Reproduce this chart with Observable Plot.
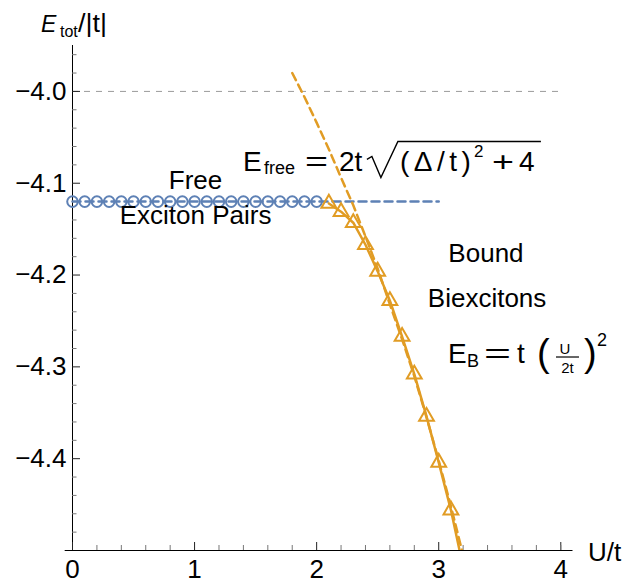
<!DOCTYPE html>
<html><head><meta charset="utf-8">
<script src="https://cdn.jsdelivr.net/npm/d3@7"></script>
<script src="https://cdn.jsdelivr.net/npm/@observablehq/plot@0.6"></script>
<style>body{margin:0;background:#fff;} svg{display:block;}</style>
</head><body><div id="chart"></div>
<script>
// ---- data ----
const freeU = [0.0,0.1,0.2,0.3,0.4,0.5,0.6,0.7,0.8,0.9,1.0,1.1,1.2,1.3,1.4,1.5,1.6,1.7,1.8,1.9,2.0];
const freeE = [-4.12,-4.12,-4.12,-4.12,-4.12,-4.12,-4.12,-4.12,-4.12,-4.12,-4.12,-4.12,-4.12,-4.12,-4.12,-4.12,-4.12,-4.12,-4.12,-4.12,-4.12];
const freeLineU = [0.0, 3.0];
const freeLineE = [-4.12, -4.12];
const boundU = [2.1,2.2,2.3,2.4,2.5,2.6,2.7,2.8,2.9,3.0,3.1];
const boundE = [-4.122,-4.131,-4.143,-4.167,-4.196,-4.228,-4.267,-4.308,-4.354,-4.404,-4.456];
const boundLineU = [2.1,2.2,2.3,2.4,2.5,2.6,2.7,2.8,2.9,3.0,3.1,3.2];
const boundLineE = [-4.122,-4.131,-4.143,-4.167,-4.196,-4.228,-4.267,-4.308,-4.354,-4.404,-4.456,-4.518];
const ebU = [1.8,1.9,2.0,2.1,2.2,2.3,2.4,2.5,2.6,2.7,2.8,2.9,3.0,3.1,3.2];
const ebE = [-3.980,-4.006,-4.034,-4.063,-4.094,-4.124,-4.158,-4.193,-4.232,-4.270,-4.310,-4.355,-4.402,-4.452,-4.505];
const refLineU = [0, 4];
const refLineE = -4.0;
const xTicks = [0,1,2,3,4];
const xMinor = [0.2,0.4,0.6,0.8,1.2,1.4,1.6,1.8,2.2,2.4,2.6,2.8,3.2,3.4,3.6,3.8,4.0];
const yTicks = [-4.4,-4.3,-4.2,-4.1,-4.0];
const yMinor = [-4.48,-4.46,-4.44,-4.42,-4.38,-4.36,-4.34,-4.32,-4.28,-4.26,-4.24,-4.22,-4.18,-4.16,-4.14,-4.12,-4.08,-4.06,-4.04,-4.02,-3.98,-3.96];
const labelText = ["Free", "Exciton Pairs", "Bound", "Biexcitons"];
const labelU = [1.008, 1.008, 3.387, 3.396];
const labelE = [-4.1062, -4.1443, -4.1857, -4.2347];
const axisLabelX = "U/t";
const formulaFreeAt = [1.40, -4.0877];
const formulaBAt = [3.08, -4.2958];

// ---- tables ----
const freePts = freeU.map((u, i) => ({U: u, E: freeE[i]}));
const freeLine = freeLineU.map((u, i) => ({U: u, E: freeLineE[i]}));
const boundPts = boundU.map((u, i) => ({U: u, E: boundE[i]}));
const boundLine = boundLineU.map((u, i) => ({U: u, E: boundLineE[i]}));
const ebLine = ebU.map((u, i) => ({U: u, E: ebE[i]}));
const labels = labelText.map((t, i) => ({t, U: labelU[i], E: labelE[i]}));

const W = 633, H = 584, ML = 72, MR = 60.5, MT = 45, MB = 34;
const FW = W - ML - MR, FH = H - MT - MB;
const blue = "#5E81B5", orange = "#E19C24";

const chart = Plot.plot({
  width: W, height: H,
  marginLeft: ML, marginRight: MR, marginTop: MT, marginBottom: MB,
  x: {domain: [0, 4.1], axis: null},
  y: {domain: [-4.5, -3.95], axis: null},
  style: {fontFamily: "Liberation Sans, Arial, sans-serif", background: "white", color: "black"},
  marks: [
    Plot.ruleY([refLineE], {x1: refLineU[0], x2: refLineU[1], stroke: "#9a9a9a", strokeWidth: 1, strokeDasharray: "6,6"}),
    Plot.ruleX([0], {y1: -4.5, y2: -3.95, stroke: "black", strokeWidth: 1}),
    Plot.ruleY([-4.5], {x1: -0.06, x2: 4.1, stroke: "black", strokeWidth: 1}),
    Plot.tickY(yTicks, {y: d => d, insetRight: FW - 8, stroke: "#222"}),
    Plot.tickY(yMinor, {y: d => d, insetRight: FW - 4.5, stroke: "#777"}),
    Plot.tickX(xTicks, {x: d => d, insetTop: FH - 8, stroke: "#222"}),
    Plot.tickX(xMinor, {x: d => d, insetTop: FH - 5, stroke: "#777"}),
    Plot.axisY({ticks: yTicks, tickSize: 0, tickPadding: 6, tickFormat: d3.format(".1f"), fontSize: 26, label: null}),
    Plot.axisX({ticks: xTicks, tickSize: 0, tickPadding: 9, tickFormat: d3.format("d"), fontSize: 26, label: null}),
    Plot.line(freeLine, {x: "U", y: "E", stroke: blue, strokeWidth: 2.5, strokeDasharray: "8,5"}),
    Plot.dot(freePts, {x: "U", y: "E", r: 5.3, stroke: blue, strokeWidth: 2, fill: "none"}),
    Plot.line(ebLine, {x: "U", y: "E", stroke: orange, strokeWidth: 2.5, strokeDasharray: "8,5", clip: true}),
    Plot.line(boundLine, {x: "U", y: "E", stroke: orange, strokeWidth: 2.5, clip: true}),
    Plot.dot(boundPts, {x: "U", y: "E", symbol: "triangle", r: 5.5, stroke: orange, strokeWidth: 2, fill: "none"}),
    Plot.text(labels, {x: "U", y: "E", text: "t", fontSize: 26, lineAnchor: "bottom", textAnchor: "middle", fill: "black"}),
    Plot.text([axisLabelX], {frameAnchor: "bottom-right", dx: 15, dy: 10, text: d => d, textAnchor: "start", lineAnchor: "bottom", fontSize: 26, fill: "black"})
  ]
});
document.getElementById("chart").appendChild(chart);

// ---- rich-text annotations positioned through the plot's scales ----
const sx = chart.scale("x"), sy = chart.scale("y");
const svg = d3.select(chart);
const ff = "Liberation Sans, Arial, sans-serif";
function txt(x, y, s, size, opts = {}) {
  const t = svg.append("text").attr("x", x).attr("y", y).attr("font-size", size)
    .attr("font-family", ff).attr("fill", "black")
    .attr("text-anchor", opts.anchor || "start").text(s);
  if (opts.italic) t.attr("font-style", "italic");
  if (opts.len) t.attr("textLength", opts.len).attr("lengthAdjust", opts.adjust || "spacingAndGlyphs");
  return t;
}
// axis title E_tot/|t|
txt(41, 31.5, "E", 23, {italic: true});
txt(60, 37, "tot", 16);
txt(78, 31.5, "/|t|", 25, {len: 29});

// E_free = 2t sqrt((Δ/t)^2 + 4)
{
  const x0 = sx.apply(formulaFreeAt[0]), b = sy.apply(formulaFreeAt[1]);
  txt(x0, b, "E", 28);
  txt(x0 + 21, b + 3, "free", 18);
  txt(x0 + 62, b, "=", 28, {len: 23});
  txt(x0 + 96, b, "2t", 28);
  svg.append("path")
    .attr("d", `M${x0+124},${b-12} L${x0+129},${b-15} L${x0+138},${b+6} L${x0+155},${b-30} L${x0+298},${b-30}`)
    .attr("fill", "none").attr("stroke", "black").attr("stroke-width", 1.4);
  txt(x0 + 157, b, "(Δ/t)", 28, {len: 71, adjust: "spacing"});
  txt(x0 + 231, b - 14, "2", 17);
  txt(x0 + 249, b, "+", 28, {len: 22});
  txt(x0 + 276, b, "4", 28);
}
// E_B = t (U/2t)^2
{
  const x0 = sx.apply(formulaBAt[0]), b = sy.apply(formulaBAt[1]);
  txt(x0, b, "E", 28);
  txt(x0 + 19, b + 4, "B", 18);
  txt(x0 + 36, b, "=", 28, {len: 27});
  txt(x0 + 69, b, "t", 28);
  txt(x0 + 89, b + 3, "(", 38);
  txt(x0 + 117, b - 9, "U", 15, {anchor: "middle"});
  svg.append("line").attr("x1", x0 + 108).attr("x2", x0 + 131).attr("y1", b - 5.5).attr("y2", b - 5.5)
    .attr("stroke", "black").attr("stroke-width", 1.2);
  txt(x0 + 119.5, b + 10, "2t", 15, {anchor: "middle"});
  txt(x0 + 136, b + 3, ")", 38);
  txt(x0 + 149, b - 17, "2", 18);
}
</script>
</body></html>
